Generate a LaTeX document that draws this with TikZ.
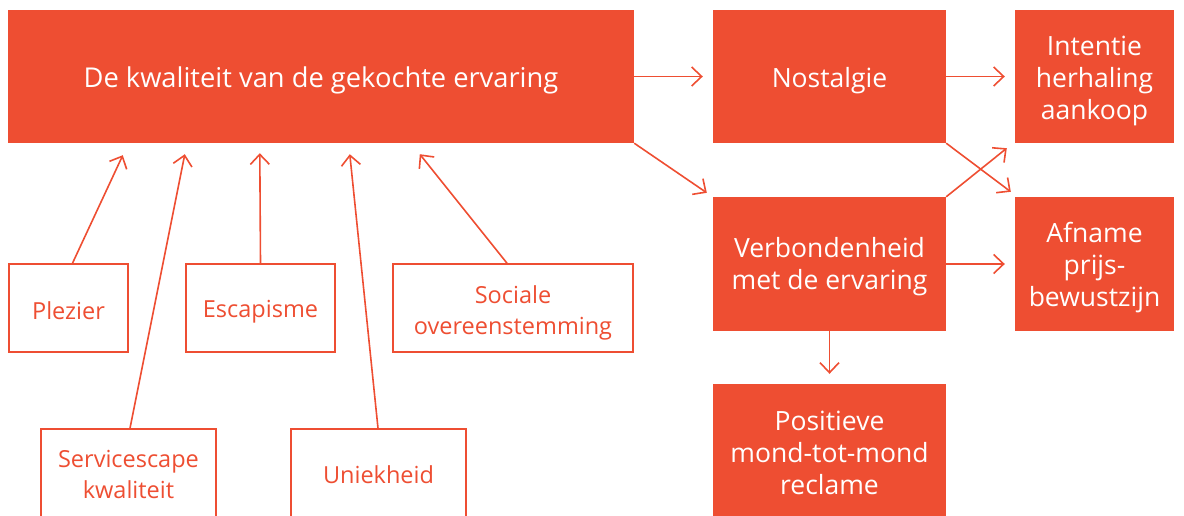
\documentclass[tikz,border=0pt]{standalone}
\usepackage{fontspec}
\setmainfont{Open Sans}
\usetikzlibrary{arrows.meta}
\definecolor{oranje}{RGB}{238,78,50}
\tikzset{
  fillbox/.style={fill=oranje, draw=none, inner sep=0pt},
  filltext/.style={text=white, inner sep=0pt, align=center, font=\fontsize{26.5}{32}\selectfont},
  linebox/.style={draw=oranje, line width=1.6pt, fill=white, inner sep=0pt},
  linetext/.style={text=oranje, inner sep=0pt, align=center, font=\fontsize{23.5}{31}\selectfont},
  arr/.style={draw=oranje, line width=1.6pt, -{Straight Barb[length=10pt,width=19pt,line width=1.6pt]}},
}
\begin{document}
\begin{tikzpicture}[x=1pt,y=-1pt]
\useasboundingbox (0,0) rectangle (1184,515);
\clip (0,0) rectangle (1184,515);
% filled boxes
\node[fillbox, minimum width=626pt, minimum height=133pt] (main) at (321,76.5) {};
\node[filltext, font=\fontsize{27.3}{32}\selectfont] (maintxt) at (321,80.5) {De kwaliteit van de gekochte ervaring};
\node[fillbox, minimum width=233pt, minimum height=133pt] (nost) at (829.5,76.5) {};
\node[filltext] (nosttxt) at (829.5,80.5) {Nostalgie};
\node[fillbox, minimum width=159pt, minimum height=133pt] (int) at (1094.5,76.5) {};
\node[filltext] (inttxt) at (1094.5,80.5) {Intentie\\herhaling\\aankoop};
\node[fillbox, minimum width=233pt, minimum height=134pt] (verb) at (829.5,264) {};
\node[filltext] (verbtxt) at (829.5,267) {Verbondenheid\\met de ervaring};
\node[fillbox, minimum width=159pt, minimum height=134pt] (afn) at (1094.5,264) {};
\node[filltext] (afntxt) at (1094.5,268) {Afname\\prijs-\\bewustzijn};
\node[fillbox, minimum width=233pt, minimum height=140pt] (pos) at (829.5,454) {};
\node[filltext] (postxt) at (829.5,453) {Positieve\\mond-tot-mond\\reclame};
% outlined boxes
\node[linebox, minimum width=119pt, minimum height=88pt] (plez) at (68.5,308) {};
\node[linetext] (pleztxt) at (68.5,311) {Plezier};
\node[linebox, minimum width=149pt, minimum height=88pt] (esc) at (260.5,308) {};
\node[linetext] (esctxt) at (260.5,312) {Escapisme};
\node[linebox, minimum width=240pt, minimum height=88pt] (soc) at (513,308) {};
\node[linetext] (soctxt) at (513,313) {Sociale\\overeenstemming};
\node[linebox, minimum width=175pt, minimum height=110pt] (serv) at (128.5,484) {};
\node[linetext] (servtxt) at (128.5,474.5) {Servicescape\\kwaliteit};
\node[linebox, minimum width=175pt, minimum height=110pt] (uniek) at (378.5,484) {};
\node[linetext] (uniektxt) at (378.5,475) {Uniekheid};
% arrows right side
\draw[arr] (main.east) -- ([xshift=-10pt]nost.west);
\draw[arr] (main.south east) -- ([shift={(-6pt,4pt)}]verb.north west);
\draw[arr] (nost.east) -- ([xshift=-10pt]int.west);
\draw[arr] (verb.east) -- ([xshift=-10pt]afn.west);
\draw[arr] (nost.south east) -- ([shift={(-4pt,5pt)}]afn.north west);
\draw[arr] (verb.north east) -- ([shift={(-8pt,-5pt)}]int.south west);
\draw[arr] (verb.south) -- ([yshift=10pt]pos.north);
% arrows to main
\draw[arr] ([xshift=4pt]plez.north) -- ([shift={(115pt,-12pt)}]main.south west);
\draw[arr] ([xshift=1.5pt]serv.north) -- ([shift={(177pt,-11pt)}]main.south west);
\draw[arr] (esc.north) -- ([shift={(252pt,-10pt)}]main.south west);
\draw[arr] ([xshift=-0.5pt]uniek.north) -- ([shift={(342pt,-11pt)}]main.south west);
\draw[arr] ([xshift=-6pt]soc.north) -- ([shift={(412pt,-11pt)}]main.south west);
\end{tikzpicture}
\end{document}
